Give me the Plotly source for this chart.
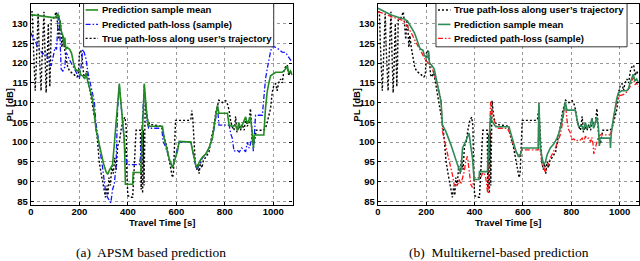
import plotly.graph_objects as go

W, H = 640, 261

# ---------------- data ----------------
true_t = [0, 6, 10, 14, 18, 22, 26, 30, 34, 38, 42, 46, 50, 54, 57, 60, 63, 66, 69, 72, 75, 78, 81, 84, 95, 105,
          110, 115, 120, 124, 128, 132, 138, 145, 152, 160, 170, 180, 190, 196, 200, 206, 212, 218, 224, 230, 236, 242,
          250, 258, 266, 274, 282, 290, 296, 302, 308, 314, 318, 322, 328, 334, 340, 346, 352, 358, 365, 372, 380, 388,
          393, 396, 400, 410, 420, 425, 430, 434, 445, 452, 455, 458, 461, 464, 467, 472, 480, 490, 540, 550, 560, 570,
          578, 584, 588, 592, 597, 610, 650, 660, 664, 668, 672, 678, 684, 690, 694, 700, 706, 712, 720, 735, 745, 755,
          763, 770, 776, 790, 804, 812, 818, 824, 830, 838, 845, 850, 858, 865, 872, 880, 886, 893, 900, 906, 910, 915,
          920, 925, 930, 960, 968, 975, 982, 989, 996, 1003, 1010, 1016, 1022, 1030, 1037, 1044, 1050, 1058, 1064, 1070,
          1078]
true_pl = [133, 133, 125, 117, 113, 119, 127, 132.5, 124, 116, 113, 121, 129, 133, 125, 117, 112.5, 118, 124, 130, 122,
           114, 120, 131, 131.5, 133,
           130, 126, 131, 129, 124, 127, 124, 121.5, 119, 118, 117.5, 117, 116.5, 117, 122.5, 123.3, 121, 117, 116.5, 118,
           116, 114,
           111, 108, 105, 101, 95, 92, 90, 87.5, 86, 89, 86.5, 91, 89, 94, 92, 96, 93, 99, 100, 103, 105.5, 106.3,
           104, 92, 86.5, 86, 86, 92, 100, 103, 103, 103, 88, 102, 87, 103, 89, 110.5, 106, 104.5, 104, 101, 99, 96,
           93, 91, 92, 99, 105.5, 105.5, 105.5, 105.7, 108, 106, 100, 95, 93, 94.5, 92, 95, 93.5, 95.5, 96, 97.5, 101, 104,
           107.5, 109.5, 110.6, 110, 110.5, 109.5, 108, 105.5, 104, 103, 106.5, 102.5, 104, 103, 104.5, 103, 106, 104, 105,
           108.5, 104, 100,
           99.5, 102, 103, 103, 103.5, 105, 107, 108.5, 112.7, 114.5, 114.8, 113, 115, 116, 115, 118, 119, 119.5, 116.8,
           118, 117]

apsm_mean_t = [0, 60, 100, 112, 120, 126, 132, 136, 140, 144, 150, 160, 168, 176, 184, 192, 200, 206, 214, 222, 228,
               234, 242, 250, 258, 264, 269, 280, 290, 300, 310, 317, 325, 337, 345, 352, 358, 365, 370, 376, 385, 388,
               390, 420, 422, 454, 458, 463, 468, 474, 480, 488, 543, 550, 560, 572, 584, 595, 605, 612, 660, 670, 680,
               687, 695, 708, 722, 735, 749, 756, 763, 770, 776, 811, 818, 830, 845, 852, 858, 865, 872, 879, 886, 893,
               900, 906, 913, 918, 922, 961, 968, 975, 982, 989, 1010, 1037, 1051, 1058, 1064, 1071, 1078]
apsm_mean_pl = [132.3, 131.8, 131.5, 132.5, 130.5, 128, 127, 124.5, 126.5, 123.5, 124, 123.5, 122.5, 120, 118.5, 118,
                118.5, 117, 116.8, 116, 117.5, 115.5, 114, 112, 109.5, 106, 103, 100, 97, 94.5, 92.5, 91.8, 93, 94.3,
                100, 106, 111, 114.8, 111, 106, 101, 95, 89.3, 89.3, 92.3, 92.3, 100, 108, 114.8, 110, 106, 104, 104,
                101, 98.5, 95.5, 93.5, 96, 97.7, 100.2, 100, 97, 94.3, 93.5, 95, 96.2, 97, 98.5, 101, 104, 106.8, 109.3,
                107.3, 107.3, 104.3, 104, 104.2, 103, 105, 103.5, 104.3, 105.5, 106.4, 104.6, 105.5, 106.4, 102.5, 98.5,
                101.8, 101.8, 108.5, 112.7, 115, 116.8, 117.7, 117.7, 118.5, 119.3, 117.5, 118, 117]

apsm_sample_t = [0, 8, 15, 25, 36, 49, 60, 70, 78, 84, 92, 100, 106, 110, 114, 118, 121, 123, 125, 132, 140, 145, 152,
                 158, 166, 176, 187, 200, 207, 214, 221, 228, 235, 241, 248, 255, 262, 268, 276, 283, 290, 296, 303, 310,
                 318, 325, 330, 337, 344, 351, 354, 358, 365, 372, 378, 385, 392, 398, 412, 447, 452, 458, 463, 468, 474,
                 480, 486, 540, 546, 555, 565, 575, 584, 595, 605, 612, 660, 672, 680, 687, 695, 708, 722, 735, 749, 756,
                 763, 770, 776, 818, 825, 831, 838, 850, 860, 870, 880, 886, 893, 900, 906, 913, 918, 922, 927, 955, 962,
                 968, 975, 982, 989, 996, 1010, 1023, 1037, 1051, 1064, 1078]
apsm_sample_pl = [127.7, 126.5, 126, 124.5, 123.5, 122.3, 123, 121, 120, 119.3, 122, 124, 123.5, 131, 132.8, 130.2, 125,
                  120, 118.5, 118, 119, 122.7, 122, 121, 120.2, 119, 117.7, 116, 119, 123.5, 122.5, 121, 117.7, 116,
                  114.5, 112.7, 110.2, 105, 102, 99.3, 96, 93.5, 90, 86.8, 85.8, 85, 84.6, 88, 89.3, 93.5, 98.5, 108.5,
                  114.3, 110, 105, 101, 96, 94.3, 94.3, 94.3, 96, 104, 110, 114.5, 109, 105, 103.5, 103.5, 100, 99, 97,
                  95, 93.5, 96, 98, 100, 100, 96.5, 94, 93, 94.5, 96, 97, 98.5, 101, 103.5, 106.5, 109, 104.3, 104.3,
                  102, 101, 97.7, 98, 97.5, 98.5, 98, 97.5, 100, 98.5, 99.5, 101.5, 97.7, 101, 106.8, 106.8, 112.7, 116,
                  118.5, 121, 123, 124.3, 124, 123.5, 122.8, 122.7, 121.5, 120.2]

mk_mean_t = [0, 30, 55, 96, 110, 123, 137, 151, 158, 165, 172, 178, 186, 192, 199, 206, 210, 213, 222, 233, 240, 247,
             254, 261, 267, 281, 302, 315, 336, 343, 350, 363, 370, 377, 384, 391, 398, 418, 420, 453, 458, 462, 466,
             470, 480, 487, 542, 550, 560, 572, 583, 590, 597, 663, 666, 669, 672, 679, 686, 693, 700, 713, 727, 741,
             750, 761, 768, 775, 782, 816, 823, 830, 845, 850, 858, 865, 872, 878, 885, 892, 898, 905, 912, 916, 919,
             960, 962, 965, 974, 981, 988, 995, 1008, 1029, 1036, 1042, 1049, 1056, 1063, 1070, 1078]
mk_mean_pl = [133.9, 133, 132.2, 131.4, 131.2, 130.6, 129.3, 127.7, 126.5, 125.2, 124, 123.5, 123.3, 122, 121.5, 121.4,
              123, 120, 119.5, 118.5, 116.5, 114.3, 112, 110.2, 104.3, 102.7, 99.3, 96.8, 93, 92.5, 98.5, 100.2, 101.5,
              102.3, 99, 96, 90.5, 90.5, 92.5, 92.5, 99, 104, 106.8, 105.5, 104.5, 103.9, 103.9, 102, 100, 97.5, 96.4,
              97, 98.5, 98.5, 110, 103, 98.5, 96, 94.3, 95, 96.8, 98.5, 99.5, 101, 102.5, 105.2, 108, 110.2, 108.1,
              108.1, 106, 104, 104, 103, 105, 103.5, 104, 104, 106, 103.5, 104.5, 106.4, 104, 99, 101, 101, 98.5, 102,
              106, 109, 111, 112.5, 113, 113, 113.5, 114.8, 116, 117.2, 115.5, 116, 115]

mk_sample_t = [0, 30, 55, 96, 110, 123, 137, 151, 165, 178, 190, 199, 209, 219, 226, 233, 240, 247, 254, 261, 267, 274,
               281, 288, 295, 302, 308, 315, 322, 329, 336, 343, 350, 357, 363, 370, 377, 384, 391, 398, 425, 432, 439,
               446, 453, 458, 461, 466, 470, 480, 494, 535, 549, 562, 576, 583, 590, 597, 663, 666, 669, 672, 679, 686,
               693, 700, 713, 734, 754, 761, 768, 775, 782, 789, 795, 802, 810, 820, 830, 837, 845, 852, 858, 865, 872,
               880, 885, 890, 893, 905, 912, 920, 933, 960, 966, 974, 981, 988, 995, 1001, 1015, 1029, 1042, 1049, 1056,
               1063, 1070, 1078]
mk_sample_pl = [133, 132.5, 131.8, 131, 130.5, 129.3, 127.8, 126, 124.5, 123.1, 121.8, 120.6, 120, 119.3, 118.5, 117.2,
                115.8, 114.3, 112.5, 111, 102.7, 100.5, 98.5, 97, 95.2, 93.5, 91.8, 89.3, 89, 89, 90.5, 89.3, 91, 92.5,
                95, 96.4, 93, 89.3, 88.5, 91, 91, 92, 92.3, 91, 87.5, 87, 99, 110.2, 108, 105.6, 103.5, 103.5, 101.8, 99,
                96.8, 96, 97, 98, 98, 110, 102, 97.7, 94.3, 93.5, 92.3, 93.5, 96, 98.5, 101.8, 104, 107.7, 110, 105.6,
                103.1, 102.5, 100.6, 100.8, 100.2, 100.6, 100.5, 101, 100, 101.5, 100.8, 101, 100, 101.2, 99.5, 97, 100,
                101.4, 101.8, 101.8, 101.8, 103, 106, 108.5, 110.2, 111, 111.8, 112, 112.7, 113.9, 115, 116.4, 114.5,
                115, 114]

x_ticks = [0, 200, 400, 600, 800, 1000]
y_ticks = [85, 90, 95, 100, 105, 110, 115, 120, 125, 130]
x_range = [0, 1080]
y_range = [84, 135]

legend_a = ["Prediction sample mean", "Predicted path-loss (sample)", "True path-loss along user\u2019s trajectory"]
legend_b = ["True path-loss along user\u2019s trajectory", "Prediction sample mean", "Predicted path-loss (sample)"]
x_title = "Travel Time [s]"
y_title = "PL [dB]"
captions = ["(a)  APSM based prediction", "(b)  Multikernel-based prediction"]

# ---------------- styles ----------------
GREEN_A = "rgb(34,139,34)"
GREEN_B = "rgb(46,139,87)"
BLUE = "rgb(20,20,255)"
RED = "rgb(255,20,20)"
BLACK = "black"
DOT = "2px,2px"
DASHDOT = "5px,2px,1.5px,2px"
SANS = "Liberation Sans, Arial, sans-serif"
SERIF = "Liberation Serif, Times New Roman, serif"
FS = 9.5

def px(x):
    return x / W

def py(y):
    return 1 - y / H

# axis pixel boxes (left, right, top, bottom)
AX = [(28, 291, 4, 206), (376.7, 639, 4, 206)]

fig = go.Figure()

def add(t, v, color, dash, width, xa, ya):
    fig.add_trace(go.Scatter(x=t, y=v, mode="lines", xaxis=xa, yaxis=ya, showlegend=False,
                             line=dict(color=color, dash=dash, width=width), hoverinfo="skip"))

# panel (a)
add(true_t, true_pl, BLACK, DOT, 1.4, "x", "y")
add(apsm_sample_t, apsm_sample_pl, BLUE, DASHDOT, 1.3, "x", "y")
add(apsm_mean_t, apsm_mean_pl, GREEN_A, "solid", 1.6, "x", "y")
# panel (b)
add(true_t, true_pl, BLACK, DOT, 1.4, "x2", "y2")
add(mk_sample_t, mk_sample_pl, RED, DASHDOT, 1.3, "x2", "y2")
add(mk_mean_t, mk_mean_pl, GREEN_B, "solid", 1.6, "x2", "y2")

axis_common = dict(showline=True, linecolor="black", linewidth=1.3, mirror="allticks", ticks="inside",
                   ticklen=3, tickcolor="black", tickwidth=0.8, showgrid=True, gridcolor="#9a9a9a",
                   gridwidth=0.6, griddash="dot", zeroline=False,
                   tickfont=dict(family=SANS, size=FS, color="black", weight="bold"))

layout = dict(width=W, height=H, margin=dict(l=0, r=0, t=0, b=0), paper_bgcolor="white",
              plot_bgcolor="white", showlegend=False)
for i, (l, r, t, b) in enumerate(AX):
    s = "" if i == 0 else str(i + 1)
    layout["xaxis" + s] = dict(axis_common, domain=[px(l), px(r)], range=x_range, tickvals=x_ticks,
                               anchor="y" + s, ticklabelstandoff=-3)
    layout["yaxis" + s] = dict(axis_common, domain=[py(b), py(t)], range=y_range, tickvals=y_ticks,
                               anchor="x" + s)
fig.update_layout(**layout)

annotations = []
shapes = []
for i, (l, r, t, b) in enumerate(AX):
    cx = (l + r) / 2
    annotations.append(dict(x=px(cx), y=py(223.5), xref="paper", yref="paper", text=x_title, showarrow=False,
                            font=dict(family=SANS, size=FS, color="black", weight="bold"),
                            xanchor="center", yanchor="middle"))
    annotations.append(dict(x=px(l - 21), y=py((t + b) / 2), xref="paper", yref="paper", text=y_title,
                            showarrow=False, textangle=-90,
                            font=dict(family=SANS, size=FS, color="black", weight="bold"),
                            xanchor="center", yanchor="middle"))
    annotations.append(dict(x=px([149, 498][i]), y=py(253), xref="paper", yref="paper", text=captions[i],
                            showarrow=False, font=dict(family=SERIF, size=13.5, color="black"),
                            xanchor="center", yanchor="middle"))

# custom legends (box, swatch, text)
legends = [
    (81, 272, legend_a, [(GREEN_A, "solid", 1.6), (BLUE, DASHDOT, 1.3), (BLACK, DOT, 1.4)]),
    (435, 627, legend_b, [(BLACK, DOT, 1.4), (GREEN_B, "solid", 1.6), (RED, DASHDOT, 1.3)]),
]
rows = [10, 24.5, 38.5]
for (lx, rx, names, styles) in legends:
    shapes.append(dict(type="rect", xref="paper", yref="paper", x0=px(lx), x1=px(rx), y0=py(47), y1=py(3.5),
                       line=dict(color="black", width=0.8), fillcolor="white", layer="above"))
    for yy, name, (c, d, w) in zip(rows, names, styles):
        shapes.append(dict(type="line", xref="paper", yref="paper", x0=px(lx + 2), x1=px(lx + 14.5),
                           y0=py(yy), y1=py(yy), line=dict(color=c, dash=d, width=w), layer="above"))
        annotations.append(dict(x=px(lx + 16), y=py(yy), xref="paper", yref="paper", text=name,
                                showarrow=False, xanchor="left", yanchor="middle",
                                font=dict(family=SANS, size=FS, color="black", weight="bold")))

fig.update_layout(annotations=annotations, shapes=shapes)
fig.write_html("out.html", config={"displayModeBar": False},
               post_script="document.body.style.margin='0px';document.body.style.padding='0px';")
